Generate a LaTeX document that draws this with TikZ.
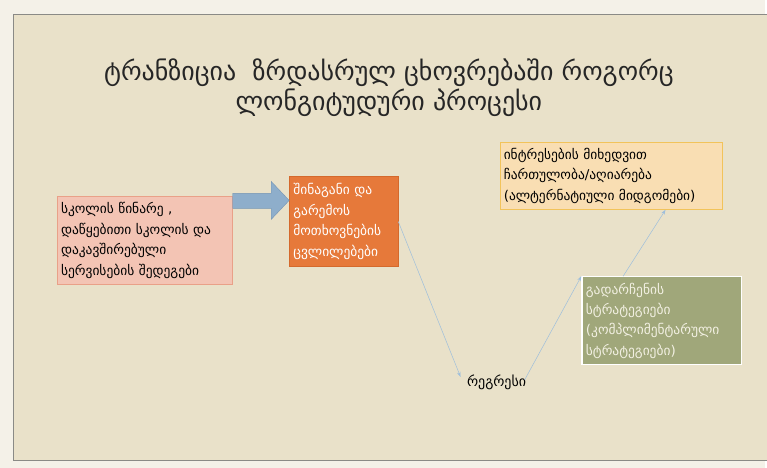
\documentclass[tikz,border=0pt]{standalone}
\usepackage{fontspec}
\setmainfont{DejaVu Sans}
\usetikzlibrary{calc, arrows.meta, positioning}

\definecolor{outerbg}{HTML}{F4F1E8}
\definecolor{slidebg}{HTML}{E9E1C9}
\definecolor{framegray}{HTML}{8A8A86}
\definecolor{pinkfill}{HTML}{F3C4B4}
\definecolor{pinkline}{HTML}{E9A088}
\definecolor{orangefill}{HTML}{E6793A}
\definecolor{orangeline}{HTML}{D4692C}
\definecolor{tanfill}{HTML}{F9DEB3}
\definecolor{tanline}{HTML}{F2C35A}
\definecolor{greenfill}{HTML}{A0A77A}
\definecolor{arrowblue}{HTML}{8EAECB}
\definecolor{arrowline}{HTML}{7595B4}
\definecolor{linkblue}{HTML}{9DBEDC}
\definecolor{greentext}{HTML}{F2F0E2}

\begin{document}
\begin{tikzpicture}[x=1pt, y=-1pt,
  box/.style={anchor=north west, align=left, inner sep=4pt,
    font=\fontsize{13.5}{20.5}\selectfont},
  link/.style={draw=linkblue, line width=0.5pt, -{Stealth[length=5pt,width=3.5pt]}}]

% Define sizes
\def\pagew{767}
\def\pageh{469}

% Draw the slide background and frame
\fill[outerbg] (0,0) rectangle (\pagew,\pageh);
\draw[framegray, fill=slidebg] (13,14) rectangle (\pagew+2,462);
\useasboundingbox (0,0) rectangle (\pagew,\pageh);

% Title
\node[align=center, font=\fontsize{26}{30}\selectfont, text=black!85] (title) at (390,88)
  {ტრანზიცია\ \ ზრდასრულ ცხოვრებაში როგორც\\ ლონგიტუდური პროცესი};

% Boxes
\node[box, fill=pinkfill, draw=pinkline, text width=168pt, minimum height=88pt] (school) at (57,197)
  {სკოლის წინარე ,\\ დაწყებითი სკოლის და\\ დაკავშირებული\\ სერვისების შედეგები};
\node[box, fill=orangefill, draw=orangeline, text=white, text width=101pt, minimum height=90pt] (demands) at (290,177)
  {შინაგანი და\\ გარემოს\\ მოთხოვნების\\ ცვლილებები};
\node[box, fill=tanfill, draw=tanline, text width=215pt, minimum height=68pt] (interest) at (501,142)
  {ინტრესების მიხედვით\\ ჩართულობა/აღიარება\\ (ალტერნატიული მიდგომები)};
\node[box, fill=greenfill, draw=white, line width=1.2pt, text=greentext, text width=152pt, minimum height=88pt] (survive) at (583,277)
  {გადარჩენის\\ სტრატეგიები\\ (კომპლიმენტარული\\ სტრატეგიები)};
\node[font=\fontsize{14}{16}\selectfont] (regress) at (498,383) {რეგრესი};

% Draw the block arrow between the first two boxes
\draw[fill=arrowblue, draw=arrowline] (school.north east |- 0,194) -- (272,194) -- (272,182)
  -- (demands.west |- 0,201) -- (272,220) -- (272,209) -- (school.north east |- 0,209) -- cycle;

% Connectors
\coordinate (intin) at ($(interest.south west)!0.745!(interest.south east)$);
\coordinate (survout) at ($(survive.north west)!0.26!(survive.north east)$);
\draw[link] (demands.east) -- ([xshift=-3pt,yshift=-6pt]regress.north west);
\draw[link] ([xshift=-5pt,yshift=-9pt]regress.north east) -- (survive.north west);
\draw[link] (survout) -- (intin);

\end{tikzpicture}
\end{document}
